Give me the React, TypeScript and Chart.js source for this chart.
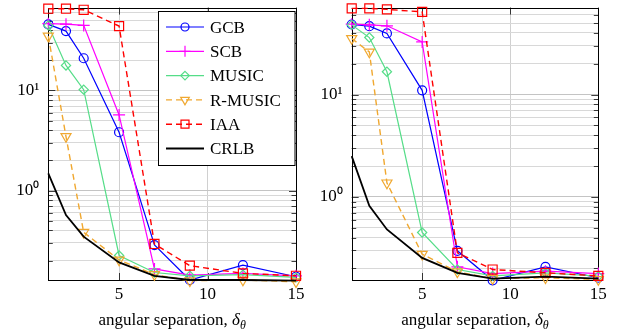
import React, { useEffect, useRef } from 'react';
import { Chart, registerables } from 'chart.js';

Chart.register(...registerables);

// ---------- data ----------
const angularSeparation = [1, 2, 3, 5, 7, 9, 12, 15];
const xTickValues = [5, 10, 15];
const yGridValues = [0.1, 0.2, 0.3, 0.4, 0.5, 0.6, 0.7, 0.8, 0.9, 1, 2, 3, 4, 5, 6, 7, 8, 9, 10, 20, 30, 40, 50, 60, 70, 80, 90];
const yTickLabels: Record<string, string> = { '1': '10⁰', '10': '10¹' };
const seriesNames = ['GCB', 'SCB', 'MUSIC', 'R-MUSIC', 'IAA', 'CRLB'];
const xTitle = 'angular separation, ';

// left panel
const leftGCB = [45.7, 39.2, 21.0, 3.83, 0.286, 0.128, 0.18, 0.138];
const leftSCB = [46.5, 46.0, 44.7, 5.7, 0.165, 0.143, 0.149, 0.141];
const leftMUSIC = [44.7, 17.8, 10.2, 0.225, 0.152, 0.141, 0.145, 0.136];
const leftRMUSIC = [35.0, 3.47, 0.383, 0.203, 0.145, 0.126, 0.128, 0.123];
const leftIAA = [65.6, 65.6, 64.0, 44.0, 0.293, 0.178, 0.149, 0.141];
const leftCRLB = [1.49, 0.571, 0.347, 0.192, 0.141, 0.128, 0.128, 0.126];
const leftYRange = [0.128, 67.3];

// right panel
const rightGCB = [48.4, 46.6, 39.6, 11.0, 0.297, 0.153, 0.207, 0.162];
const rightSCB = [48.8, 48.0, 47.0, 32.7, 0.207, 0.178, 0.188, 0.178];
const rightMUSIC = [48.0, 36.1, 16.7, 0.449, 0.195, 0.169, 0.181, 0.168];
const rightRMUSIC = [35.3, 26.1, 1.37, 0.275, 0.185, 0.159, 0.162, 0.156];
const rightIAA = [69.5, 69.5, 68.0, 64.3, 0.284, 0.195, 0.181, 0.169];
const rightCRLB = [2.5, 0.817, 0.48, 0.253, 0.181, 0.159, 0.166, 0.159];
const rightYRange = [0.154, 70.8];

// ---------- styles ----------
const STYLES = [
  { color: '#0000ff', point: 'circle', radius: 4.5, rot: 0, dash: [] as number[], width: 1.2 },
  { color: '#ff00ff', point: 'cross', radius: 6, rot: 0, dash: [] as number[], width: 1.2 },
  { color: '#55dd88', point: 'rectRot', radius: 4.6, rot: 0, dash: [] as number[], width: 1.2 },
  { color: '#f0a830', point: 'triangle', radius: 5.8, rot: 180, dash: [6, 4], width: 1.4 },
  { color: '#ff0000', point: 'rect', radius: 6.4, rot: 0, dash: [6, 4], width: 1.4 },
  { color: '#000000', point: false as any, radius: 0, rot: 0, dash: [] as number[], width: 1.8 },
];

const FONT = "'Liberation Serif', 'Times New Roman', serif";

function drawLegendMarker(ctx: CanvasRenderingContext2D, style: string, x: number, y: number, color: string) {
  ctx.save();
  ctx.strokeStyle = color;
  ctx.lineWidth = 1.2;
  ctx.setLineDash([]);
  ctx.beginPath();
  if (style === 'circle') ctx.arc(x, y, 4, 0, Math.PI * 2);
  else if (style === 'cross') {
    ctx.moveTo(x - 5.5, y); ctx.lineTo(x + 5.5, y); ctx.moveTo(x, y - 5.5); ctx.lineTo(x, y + 5.5);
  } else if (style === 'rectRot') {
    ctx.moveTo(x, y - 4.3); ctx.lineTo(x + 4.3, y); ctx.lineTo(x, y + 4.3); ctx.lineTo(x - 4.3, y); ctx.closePath();
  } else if (style === 'triangle') {
    const r = 5;
    ctx.moveTo(x, y + r); ctx.lineTo(x - r * 0.866, y - r / 2); ctx.lineTo(x + r * 0.866, y - r / 2); ctx.closePath();
  } else if (style === 'rect') ctx.rect(x - 4, y - 4, 8, 8);
  ctx.stroke();
  ctx.restore();
}

const framePlugin = {
  id: 'frameTicks',
  beforeDatasetsDraw(chart: any) {
    const { ctx, chartArea: a, scales } = chart;
    ctx.save();
    ctx.strokeStyle = 'rgba(0,0,0,0.75)';
    ctx.lineWidth = 1;
    ctx.beginPath();
    for (const t of scales.y.ticks) {
      const v = t.value;
      if (v < scales.y.min || v > scales.y.max) continue;
      const py = Math.round(scales.y.getPixelForValue(v)) + 0.5;
      const len = v === 1 || v === 10 ? 7 : 4.5;
      ctx.moveTo(a.left, py); ctx.lineTo(a.left + len, py);
      ctx.moveTo(a.right, py); ctx.lineTo(a.right - len, py);
    }
    for (const t of scales.x.ticks) {
      const px = Math.round(scales.x.getPixelForValue(t.value)) + 0.5;
      ctx.moveTo(px, a.bottom); ctx.lineTo(px, a.bottom - 7);
      ctx.moveTo(px, a.top); ctx.lineTo(px, a.top + 7);
    }
    ctx.stroke();
    ctx.strokeStyle = '#000';
    ctx.lineWidth = 1;
    ctx.strokeRect(Math.round(a.left) + 0.5, Math.round(a.top) + 0.5, Math.round(a.right) - Math.round(a.left), Math.round(a.bottom) - Math.round(a.top));
    ctx.restore();
  },
};

const legendPlugin = {
  id: 'insideLegend',
  afterDraw(chart: any) {
    if (!chart.options.plugins.insideLegend?.show) return;
    const ctx: CanvasRenderingContext2D = chart.ctx;
    ctx.save();
    ctx.fillStyle = '#fff';
    ctx.fillRect(158.5, 11.5, 136.5, 154);
    ctx.strokeStyle = '#000';
    ctx.lineWidth = 1;
    ctx.strokeRect(158.5, 11.5, 136.5, 154);
    seriesNames.forEach((name, i) => {
      const s = STYLES[i];
      const cy = 27 + i * 24.3;
      ctx.save();
      ctx.strokeStyle = s.color;
      ctx.lineWidth = s.width;
      ctx.setLineDash(s.dash);
      ctx.beginPath();
      ctx.moveTo(166, cy); ctx.lineTo(204, cy);
      ctx.stroke();
      ctx.restore();
      if (s.point) drawLegendMarker(ctx, s.point, 185, cy, s.color);
      ctx.fillStyle = '#000';
      ctx.font = `17px ${FONT}`;
      ctx.textBaseline = 'alphabetic';
      ctx.textAlign = 'left';
      ctx.fillText(name, 210, cy + 5.8);
    });
    ctx.restore();
  },
};

function buildConfig(series: number[][], yRange: number[], axisWidth: number, rightPad: number, legend: boolean): any {
  const datasets = series.map((vals, i) => {
    const s = STYLES[i];
    return {
      label: seriesNames[i],
      data: angularSeparation.map((x, j) => ({ x, y: vals[j] })),
      borderColor: s.color,
      backgroundColor: 'rgba(0,0,0,0)',
      borderWidth: s.width,
      borderDash: s.dash,
      pointStyle: s.point,
      pointRadius: s.radius,
      pointRotation: s.rot,
      pointBorderColor: s.color,
      pointBackgroundColor: 'rgba(0,0,0,0)',
      pointBorderWidth: 1.2,
      tension: 0,
      clip: false,
      order: series.length - i,
    };
  });
  return {
    type: 'line',
    data: { datasets },
    options: {
      animation: false,
      responsive: false,
      maintainAspectRatio: false,
      devicePixelRatio: 1,
      events: [],
      layout: { padding: { left: 0, top: 7.3, right: rightPad, bottom: 0 } },
      plugins: {
        legend: { display: false },
        tooltip: { enabled: false },
        insideLegend: { show: legend },
      },
      scales: {
        x: {
          type: 'linear',
          min: 1,
          max: 15,
          afterBuildTicks: (sc: any) => { sc.ticks = xTickValues.map((v) => ({ value: v })); },
          afterFit: (sc: any) => { sc.height = 52; sc.paddingLeft = 0; sc.paddingRight = 0; },
          ticks: { autoSkip: false, maxRotation: 0, padding: 4, color: '#000', font: { family: FONT, size: 17 } },
          grid: { color: '#d0d0d0', lineWidth: 1, drawTicks: false },
          border: { display: false },
        },
        y: {
          type: 'logarithmic',
          min: yRange[0],
          max: yRange[1],
          afterBuildTicks: (sc: any) => {
            sc.ticks = yGridValues.filter((v) => v >= sc.min && v <= sc.max).map((v) => ({ value: v, major: v === 1 || v === 10 }));
          },
          afterFit: (sc: any) => { sc.width = axisWidth; sc.paddingTop = 0; sc.paddingBottom = 0; },
          ticks: {
            autoSkip: false,
            padding: 9,
            color: '#000',
            font: { family: FONT, size: 17 },
            callback: (v: any) => yTickLabels[String(v)] ?? '',
          },
          grid: {
            color: (c: any) => (c.tick && (c.tick.value === 1 || c.tick.value === 10) ? '#c4c4c4' : '#d8d8d8'),
            lineWidth: 1,
            drawTicks: false,
          },
          border: { display: false },
        },
      },
    },
    plugins: [framePlugin, legendPlugin],
  };
}

const titleStyle = (cx: number): React.CSSProperties => ({
  position: 'absolute',
  left: cx - 130,
  width: 260,
  top: 311.3,
  textAlign: 'center',
  fontFamily: FONT,
  fontSize: 17,
  lineHeight: '17px',
  whiteSpace: 'nowrap',
  color: '#000',
});

function AxisTitle({ cx }: { cx: number }) {
  return (
    <div style={titleStyle(cx)}>
      {xTitle}
      <i>δ</i>
      <span style={{ fontSize: 12, fontStyle: 'italic', position: 'relative', top: 4 }}>θ</span>
    </div>
  );
}

export default function App() {
  const leftRef = useRef<HTMLCanvasElement>(null);
  const rightRef = useRef<HTMLCanvasElement>(null);
  useEffect(() => {
    const c1 = new Chart(
      leftRef.current as HTMLCanvasElement,
      buildConfig([leftGCB, leftSCB, leftMUSIC, leftRMUSIC, leftIAA, leftCRLB], leftYRange, 48.3, 15, true)
    );
    const c2 = new Chart(
      rightRef.current as HTMLCanvasElement,
      buildConfig([rightGCB, rightSCB, rightMUSIC, rightRMUSIC, rightIAA, rightCRLB], rightYRange, 40.7, 24.7, false)
    );
    return () => {
      c1.destroy();
      c2.destroy();
    };
  }, []);
  return (
    <div style={{ position: 'fixed', left: 0, top: 0, width: 623, height: 332, background: '#fff', overflow: 'hidden' }}>
      <canvas ref={leftRef} width={311} height={332} style={{ position: 'absolute', left: 0, top: 0, width: 311, height: 332 }} />
      <canvas ref={rightRef} width={312} height={332} style={{ position: 'absolute', left: 311, top: 0, width: 312, height: 332 }} />
      <AxisTitle cx={172.2} />
      <AxisTitle cx={475} />
    </div>
  );
}
